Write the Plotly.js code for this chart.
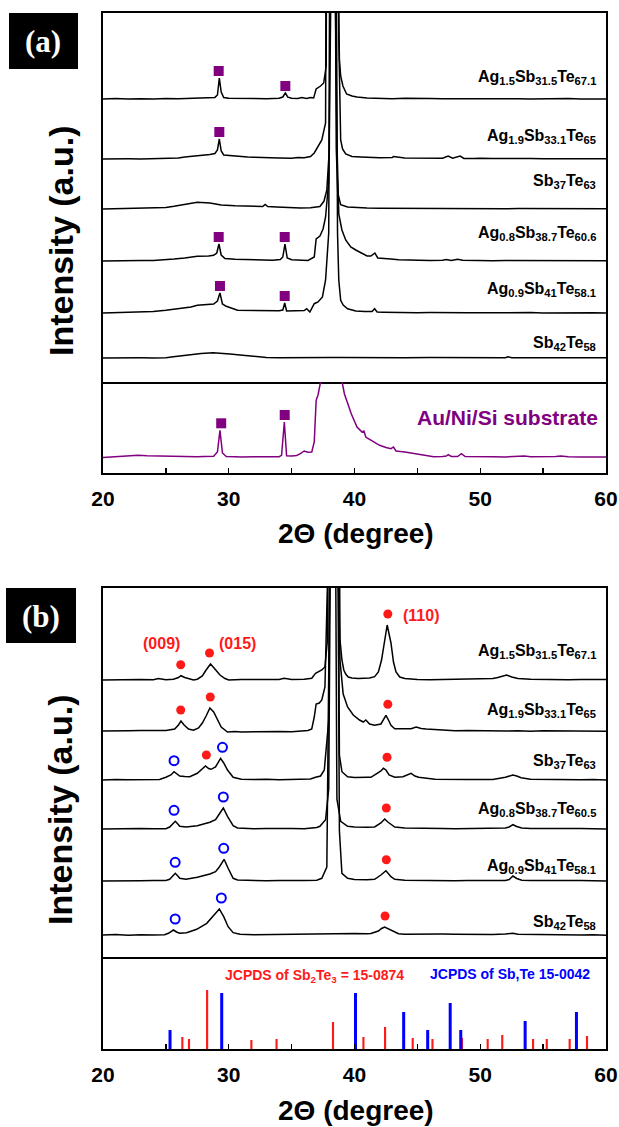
<!DOCTYPE html>
<html>
<head>
<meta charset="utf-8">
<script src="https://cdn.plot.ly/plotly-3.0.1.min.js"></script>
<style>
  html, body { margin: 0; padding: 0; background: #fff; }
  #chart { width: 619px; height: 1127px; }
</style>
</head>
<body>
<div id="chart"></div>
<script>
// ---------------- XRD patterns, panel (a): 2θ (deg) and intensity (a.u.) ----------------
const a1_tth = [20,21,22,22.5,23,24,25,26,27,27.5,28,28.5,28.9,29.1,29.25,29.4,29.6,30,31,32,33,33.5,34,34.3,34.5,34.7,35,35.5,35.8,36.2,36.5,36.75,36.95,37.3,37.55,37.75,37.9,38.15,38.3,38.45,38.7,38.8,38.9,39.08,39.37,39.8,40.2,41,42,43,44,45,46,47,48,49,50,51,52,53,54,55,56,57,58,59,60];
const a1_int = [0,0.4,0,0.2,0.3,0,0.5,0.2,0.6,0.5,0.9,1.2,1.6,4,21,7,1.5,0.8,0.4,0.6,0.3,0.5,0.8,2,6,1.8,0.8,0.6,1.5,0.5,1.5,1,10,13,16,33,120,900,3000,900,120,40,23,13,5,3,2,1,0.6,0.3,0.8,0.3,0.5,0.2,0.6,0.3,0.2,0.4,0.2,0.3,0.1,0.3,0.2,0.4,0.1,0.3,0];

const a2_tth = [20,21,22,23,24,25,26,26.5,27,27.5,28,28.5,28.9,29.1,29.25,29.4,29.6,30,30.7,31.5,32,33,34,35,35.5,36,36.5,36.8,37.1,37.4,37.7,37.9,38.15,38.3,38.5,38.75,38.9,39.05,39.3,39.8,40.5,41,42,43,43.1,44,45,46,47,47.45,47.8,48.4,48.7,49.5,50,51,52,53,54,55,56,57,58,59,60];
const a2_int = [0,0.3,0.2,0.1,0.5,0.4,1,2,2.5,3,3.8,4.5,5.5,9,20,8,4,3.5,2.5,2,1.8,1.2,1,0.8,1.5,1.2,2.5,6,12,19,36,150,900,3000,900,120,19,10,5,2.5,2,1.5,1.2,1.5,2.5,1,0.8,0.5,0.8,3,0.8,3,0.6,0.5,0.8,0.4,0.6,0.3,0.5,0.2,0.4,0.2,0.3,0.2,0.3];

const a3_tth = [20,21,22,23,24,25,25.65,26.5,27.5,28.5,29.4,30.5,31.9,32.7,32.9,33.1,33.8,35,35.7,36.5,37.25,37.57,37.8,38.0,38.15,38.3,38.4,38.55,38.67,38.9,39.45,40,41,42,43,44,45,46,47,48,49,50,51,52,53,54,55,56,57,58,59,60];
const a3_int = [0,0.3,0.4,0.5,0.8,1.5,2.7,4.5,6.7,6,4,3.2,2.7,2.5,4.5,2.5,2,1.2,1,1.2,2.5,7.7,19,60,400,3000,400,60,16,4.3,2,1.5,1,0.8,0.7,0.5,0.6,0.4,0.5,0.3,0.6,0.3,0.5,0.2,0.4,0.3,0.2,0.4,0.3,0.2,0.3,0.2];

const a4_tth = [20,21,22,23,24,25,25.65,26.5,27.5,28.4,28.8,29.05,29.22,29.4,29.7,30.5,31.5,32.5,33.5,34.1,34.3,34.47,34.65,35,35.7,36.3,36.8,36.95,37.25,37.5,37.7,37.95,38.15,38.3,38.45,38.6,38.75,39,39.3,39.7,40.1,40.5,41,41.3,41.62,41.85,42.3,42.9,43.5,44,45,46,47,47.3,47.7,48.2,48.6,49.5,50,51,52,53,54,55,56,57,58,59,60];
const a4_int = [0,0.4,0.2,0.5,0.6,1,2,3,4.7,5,5.7,8,17,6,2.5,1.8,1.5,1,0.8,1.5,4,17,3,1.2,0.8,0.5,4,22,25,32,44,80,300,3000,300,120,47,31,21,14,11,8,5,5,8,3,2.3,2,1.2,1,0.6,0.5,0.8,1.5,0.6,1.8,0.8,0.5,0.7,0.3,0.5,0.4,0.2,0.5,0.3,0.4,0.2,0.3,0.2];

const a5_tth = [20,21,22,23,24,25,26,27,27.5,28.2,28.8,29.1,29.3,29.5,29.8,30.7,31.5,32.5,33.2,34,34.3,34.45,34.6,35,35.7,36.0,36.2,36.45,36.8,37.1,37.45,37.7,37.95,38.1,38.3,38.5,38.65,38.75,38.9,39.1,39.45,40.1,40.8,41.4,41.6,41.8,42.3,43,44,45,46,47,48,49,50,51,52,53,54,55,56,57,58,59,60];
const a5_int = [0,0.3,0.5,0.8,1.5,2.7,4,6,7.7,8.5,9,12,20,9,6.7,2.7,2.5,2,2,2.2,3,10,2,2,2,2.5,4.3,1,9.3,11,16,33,80,500,3000,500,80,33,12.7,8,4.3,2,1.5,1.5,4.3,1,0.8,0.5,0.4,0.3,0.5,0.2,0.4,0.3,0.2,0.4,0.3,0.2,0.4,0.1,0.3,0.2,0.1,0.3,0];

const a6_tth = [20,21,22,23,24,25,25.6,26.3,26.9,27.8,28.75,29.5,30.1,30.9,31.7,32.4,33,34,35,36,37,38,39,40,42,44,46,48,50,52,52.2,52.5,54,56,58,60];
const a6_int = [0,0.3,0,0.2,0.1,0.2,1.2,2.3,3.3,4.5,5.3,4.8,4,3,2,1.2,0.5,0.3,0.2,0.4,0.3,0.5,0.6,0.4,0.3,0.2,0.4,0.3,0.2,0.3,1.2,0.3,0.2,0.3,0.1,0.2];

// Au/Ni/Si substrate
const sub_tth = [20,21,22,22.8,23.5,24,25,26,26.9,27.5,28,28.8,29.1,29.3,29.5,29.8,30.5,31,32,33.2,34,34.2,34.42,34.6,35,35.4,35.7,36,36.3,36.6,36.8,36.95,37.1,37.3,37.6,38.1,38.6,39.0,39.2,39.4,39.75,40.2,40.6,40.75,40.9,41,41.5,42,42.5,42.9,43.1,43.3,44,44.5,45,45.4,46.3,47,47.3,47.45,47.7,48.2,48.5,48.8,49.5,50,51,52,53,53.5,54,55,56,56.4,57,58,59,60];
const sub_int = [-0.5,0.5,0.8,1.7,1.2,1,0.7,0.5,0,0.3,0.5,0.7,5,26.7,4,0.5,0.3,0,0.2,0,0.3,1.7,35,1.3,1,1.5,3.3,6,4.7,5,15,56.7,62,75,200,600,200,76,63,55,43,30,25,26,20,19,15,11.7,9.5,8.3,10,6,5,4,3,1.7,0.3,0.5,1,2.3,0.5,0.5,3.3,0.5,0.2,0.2,0.3,0,0.3,1,0.2,0,0.4,1,0.2,0,0.2,0];

// ---------------- XRD patterns, panel (b) ----------------
const b1_tth = [20,21,22,23,24,24.4,25,25.6,26.0,26.2,26.5,26.9,27.2,27.5,27.9,28.2,28.55,28.9,29.3,29.7,30,31,32,33,34,34.4,35,36,36.6,36.9,37.4,37.65,37.85,38.1,38.3,38.55,38.85,39.0,39.15,39.3,39.5,39.8,40.3,40.7,41.2,41.6,41.9,42.15,42.4,42.6,42.9,43.1,43.3,43.6,44,44.5,45,46,47,48,48.9,49.5,50,51,51.4,51.8,52.1,52.5,53,54,55,56,57,58,59,60];
const b1_int = [0,0.3,0.2,0.5,0.3,1.5,0.2,0.8,2.5,4.3,2.5,0.8,0,0.8,4,10,16,11,5,1.5,0,0.4,0.6,0.3,0.5,1.7,0.5,0.8,1.7,6.7,10,13,40,600,3000,600,40,20,10,6,3,2,1.5,1.7,2,3.3,8,20,40,55,37,18,8,3,1.5,0.8,0.5,0.3,0.6,0.4,0.5,0.8,1,1.5,2.5,4,5,3,1.5,0.8,0.5,0.6,0.3,0.5,0.2,0.4];

const b2_tth = [20,21,22,23,24,25,25.7,26.0,26.2,26.45,26.8,27.2,27.6,27.9,28.2,28.5,28.8,29.0,29.4,29.9,30.5,31,32,33,34,35,36,36.3,36.6,36.8,36.95,37.2,37.4,37.65,37.95,38.3,38.65,38.85,39.1,39.45,39.9,40.4,40.7,40.9,41.2,41.6,42.1,42.3,42.5,42.7,42.9,43.2,44,44.5,44.9,45.3,45.7,46.5,47,48,49,50,51,52,53,54,55,56,57,58,59,60];
const b2_int = [0,0.5,0.3,0.5,0.2,0.6,2,6,10,6,2,0.7,3,8,15,23,19,14,4,-1,-0.5,-1,-0.7,-1,-0.5,-0.7,-0.3,0.5,2,14,27,28,31,44,200,3000,200,70,37,24,16,11,9,11,7,5.7,7,11,15.7,11,5.7,2.3,2,2.3,4,2.5,2,1.2,0.7,0.3,0.5,0.2,0.4,0,0.3,-0.2,0.2,0,-0.3,0.2,0,-0.2];

const b3_tth = [20,21,22,23,24,24.5,25,25.4,25.65,25.9,26.1,26.5,26.9,27.5,27.9,28.15,28.4,28.6,28.95,29.15,29.35,29.6,29.9,30.35,31,32,33,34,35,36,36.5,36.9,37.3,37.6,37.95,38.15,38.4,38.6,38.8,39,39.45,40,41,41.3,41.8,42.1,42.3,42.5,42.75,43.2,43.85,44.2,44.5,44.8,45.1,46.4,47,48,49,50,51,52,52.3,52.6,52.9,53.25,54,55,56,57,58,59,60];
const b3_int = [0,0.5,0.2,0.4,0.8,0.5,2.7,5,8.3,6,4,3.5,3.3,6.7,11,14,11.5,10.7,13,18,21.7,17,10,2.7,0.7,0.4,0.8,0.3,0.6,0.5,1,2.7,4,10,60,500,3000,500,25,8.3,3.3,2.5,2.8,2.7,6.7,9,11.7,10,5,2.7,3.3,5,6.7,4,2.7,0.7,0.5,0.8,0.4,0.6,0.5,2.7,4,5,4,2.3,0.8,0.5,0.3,0.5,0.2,0.4,0];

const b4_tth = [20,21,22,23,24,25,25.3,25.5,25.75,25.95,26.1,26.6,27.5,28.5,28.95,29.25,29.57,29.9,30.35,30.7,31.5,32,33,34,35,36,37,37.25,37.7,37.95,38.15,38.3,38.45,38.6,38.9,39.45,40,41,41.6,42.1,42.4,42.65,42.9,43.2,44,45,46,47,48,49,50,51,52,52.3,52.6,52.9,53.3,54,55,56,57,58,59,60];
const b4_int = [0,0.4,0.1,0.5,0.2,0.3,2,5,7.7,5,2.7,2,3.3,6.7,9.3,15,21,12.7,3.3,1,0.5,0.3,0.6,0.2,0.5,0.3,1.5,2.7,9.3,40,400,3000,400,30,7.7,2.7,2,1.8,2,6,10,7,4.3,2,1,0.6,0.4,0.5,0.3,0.6,0.3,0.5,1,2,4.3,2.5,1,0.5,0.3,0.6,0.2,0.4,0.3,0];

const b5_tth = [20,21,22,23,24,25,25.3,25.5,25.75,25.95,26.1,26.6,27.5,28.5,28.95,29.25,29.63,29.95,30.35,30.7,31.5,32,33,34,35,36,37,37.4,37.8,38.1,38.35,38.65,38.8,39,39.45,40,41,41.6,42.1,42.5,42.9,43.2,44,45,46,47,48,49,50,51,52,52.3,52.6,52.9,53.3,54,55,56,57,58,59,60];
const b5_int = [0,0.3,0.5,0.2,0.4,0.6,1.7,4.5,7.7,5,2.7,1.7,3.7,7,9.3,14,21.7,12.7,2.7,1,0.5,0.7,0.3,0.5,0.2,0.6,0.8,2.7,14,400,3000,400,50,7.7,2.7,1.5,1.3,1.7,6,10.3,4.3,1.7,0.8,0.5,0.3,0.6,0.2,0.5,0.4,0.3,0.6,1.5,5,2.5,0.8,0.5,0.3,0.5,0.2,0.4,0.3,0];

const b6_tth = [20,21,22,23,24,24.5,24.9,25.2,25.6,25.85,26.1,26.65,27.45,28.25,28.9,29.25,29.6,29.95,30.35,30.9,32,33,34,35,36,37,38,39,40,41,41.3,41.9,42.15,42.4,42.65,42.9,43.5,44,45,46,47,48,49,50,51,52,52.6,53,54,55,56,57,58,59,60];
const b6_int = [0,0.4,-0.2,0.3,0,0.5,0.2,1.7,5,3,1.7,2.3,5.7,11.7,21.7,26,18.3,8.3,2.3,0.7,0.3,0.5,0.4,0.6,0.8,1,1.5,1.7,1.5,1.3,1.5,4,6.5,8,6.5,4.7,1.3,0.8,1,0.6,0.9,0.7,0.5,0.8,0.6,0.9,1.7,0.8,0.5,0.3,0.4,0.2,0,0.3,-0.3];

// Reference line patterns (JCPDS cards)
const sb2te3_tth = [26.31,26.84,28.28,31.80,33.80,38.29,40.71,42.43,44.63,46.20,48.55,50.59,51.75,54.20,55.29,57.11,58.49];
const sb2te3_int = [12,10,59,9,10,27,12,22,11,10,11,10,14,10,10,10,13];
const sbte_tth = [25.33,29.44,40.08,43.91,45.82,47.61,48.45,53.57,57.65];
const sbte_int = [19,56,56,37,19,46,19,28,37];

// Sample names (top to bottom)
const labelsA = [
  'Ag<sub>1.5</sub>Sb<sub>31.5</sub>Te<sub>67.1</sub>',
  'Ag<sub>1.9</sub>Sb<sub>33.1</sub>Te<sub>65</sub>',
  'Sb<sub>37</sub>Te<sub>63</sub>',
  'Ag<sub>0.8</sub>Sb<sub>38.7</sub>Te<sub>60.6</sub>',
  'Ag<sub>0.9</sub>Sb<sub>41</sub>Te<sub>58.1</sub>',
  'Sb<sub>42</sub>Te<sub>58</sub>'
];
const labelsB = [
  'Ag<sub>1.5</sub>Sb<sub>31.5</sub>Te<sub>67.1</sub>',
  'Ag<sub>1.9</sub>Sb<sub>33.1</sub>Te<sub>65</sub>',
  'Sb<sub>37</sub>Te<sub>63</sub>',
  'Ag<sub>0.8</sub>Sb<sub>38.7</sub>Te<sub>60.5</sub>',
  'Ag<sub>0.9</sub>Sb<sub>41</sub>Te<sub>58.1</sub>',
  'Sb<sub>42</sub>Te<sub>58</sub>'
];

// Phase markers: 2θ position and the pattern (row) they sit on
const sqA_tth = [29.2, 34.5, 29.25, 29.2, 34.45, 29.3, 34.45];
const sqA_row = [0, 0, 1, 3, 3, 4, 4];
const sqSub_tth = [29.4, 34.45];
const sb2te3B_tth = [26.18, 28.47, 42.65, 26.18, 28.53, 42.65, 28.22, 42.59, 42.53, 42.53, 42.43];
const sb2te3B_row = [0, 0, 0, 1, 1, 1, 2, 2, 3, 4, 5];
const sbteB_tth = [25.65, 29.5, 25.65, 29.57, 25.74, 29.6, 25.74, 29.41];
const sbteB_row = [2, 2, 3, 3, 4, 4, 5, 5];
const hklText = ['(009)', '(015)', '(110)'];

// ---------------- layout geometry (pixels of the 619 x 1127 page) ----------------
const W = 619, H = 1127;
const PX = v => v / W;
const PY = v => 1 - v / H;
const X0 = 103, X1 = 606;
const offsA = [283, 223, 173, 121, 69, 24];     // stacking offsets, panel (a)
const offsB = [277, 226, 177, 128, 76, 22];     // stacking offsets, panel (b)
const SUB_OFF = 16;
const labelYA = [76, 135, 180, 233, 288, 342];
const labelYB = [650, 709, 760, 808, 865, 921];

const SANS = 'Arial, "Liberation Sans", sans-serif';
const SERIF = '"Times New Roman", "Liberation Serif", serif';
const RED = '#ff1a1a', BLUE = '#0000ff', PURPLE = '#800080';

const rowsA = [[a1_tth, a1_int], [a2_tth, a2_int], [a3_tth, a3_int], [a4_tth, a4_int], [a5_tth, a5_int], [a6_tth, a6_int]];
const rowsB = [[b1_tth, b1_int], [b2_tth, b2_int], [b3_tth, b3_int], [b4_tth, b4_int], [b5_tth, b5_int], [b6_tth, b6_int]];

// height of a pattern's peak near a given 2θ (used to hang markers above the peak)
function peakAt(tth, inten, x0) {
  let m = -Infinity;
  tth.forEach((t, i) => { if (Math.abs(t - x0) <= 0.35) m = Math.max(m, inten[i]); });
  return m === -Infinity ? 0 : m;
}

const traces = [];
rowsA.forEach(([t, v], i) => traces.push({
  type: 'scatter', mode: 'lines', x: t, y: v.map(q => q + offsA[i]),
  xaxis: 'x', yaxis: 'y', line: { color: '#000', width: 1.5 }, hoverinfo: 'skip'
}));
traces.push({
  type: 'scatter', mode: 'lines', x: sub_tth, y: sub_int.map(q => q + SUB_OFF),
  xaxis: 'x2', yaxis: 'y2', line: { color: PURPLE, width: 1.5 }, hoverinfo: 'skip'
});
rowsB.forEach(([t, v], i) => traces.push({
  type: 'scatter', mode: 'lines', x: t, y: v.map(q => q + offsB[i]),
  xaxis: 'x3', yaxis: 'y3', line: { color: '#000', width: 1.5 }, hoverinfo: 'skip'
}));

// square markers (panel a)
traces.push({
  type: 'scatter', mode: 'markers', xaxis: 'x', yaxis: 'y',
  x: sqA_tth,
  y: sqA_tth.map((t, k) => { const r = sqA_row[k]; return offsA[r] + peakAt(rowsA[r][0], rowsA[r][1], t) + 7; }),
  marker: { symbol: 'square', size: 10, color: PURPLE }, cliponaxis: false, hoverinfo: 'skip'
});
traces.push({
  type: 'scatter', mode: 'markers', xaxis: 'x2', yaxis: 'y2',
  x: sqSub_tth,
  y: sqSub_tth.map(t => SUB_OFF + peakAt(sub_tth, sub_int, t) + 7),
  marker: { symbol: 'square', size: 10, color: PURPLE }, cliponaxis: false, hoverinfo: 'skip'
});
// Sb2Te3 (filled) and Sb,Te (open) markers (panel b)
traces.push({
  type: 'scatter', mode: 'markers', xaxis: 'x3', yaxis: 'y3',
  x: sb2te3B_tth,
  y: sb2te3B_tth.map((t, k) => { const r = sb2te3B_row[k]; return offsB[r] + peakAt(rowsB[r][0], rowsB[r][1], t) + 11; }),
  marker: { symbol: 'circle', size: 9, color: RED }, cliponaxis: false, hoverinfo: 'skip'
});
traces.push({
  type: 'scatter', mode: 'markers', xaxis: 'x3', yaxis: 'y3',
  x: sbteB_tth,
  y: sbteB_tth.map((t, k) => { const r = sbteB_row[k]; return offsB[r] + peakAt(rowsB[r][0], rowsB[r][1], t) + 11; }),
  marker: { symbol: 'circle-open', size: 9, color: BLUE, line: { width: 2, color: BLUE } }, cliponaxis: false, hoverinfo: 'skip'
});
// JCPDS stick patterns
traces.push({
  type: 'bar', x: sb2te3_tth, y: sb2te3_int, width: 0.17, xaxis: 'x4', yaxis: 'y4',
  marker: { color: RED, line: { width: 0 } }, hoverinfo: 'skip'
});
traces.push({
  type: 'bar', x: sbte_tth, y: sbte_int, width: 0.24, xaxis: 'x4', yaxis: 'y4',
  marker: { color: BLUE, line: { width: 0 } }, hoverinfo: 'skip'
});

const boxAxis = { showline: true, mirror: true, linecolor: '#000', linewidth: 1.6, showgrid: false, zeroline: false, ticks: '', showticklabels: false, fixedrange: true };
const xDom = [PX(X0), PX(X1)];
const tickVals = [20, 30, 40, 50, 60];
const bottomAxis = Object.assign({}, boxAxis, {
  mirror: false,
  ticks: 'inside', ticklen: 5, tickwidth: 1.4, tickcolor: '#000',
  tickvals: tickVals, ticktext: tickVals.map(v => '<b>' + v + '</b>'), showticklabels: true,
  tickfont: { family: SANS, size: 21, color: '#000' }, ticklabelstandoff: 6,
  minor: { ticks: 'inside', tickvals: [25, 35, 45, 55], ticklen: 5, tickwidth: 1.4, tickcolor: '#000' }
});

const layout = {
  width: W, height: H, margin: { l: 0, r: 0, t: 0, b: 0 },
  paper_bgcolor: '#fff', plot_bgcolor: '#fff', showlegend: false, barmode: 'overlay',
  xaxis: Object.assign({}, boxAxis, { domain: xDom, range: [20, 60], anchor: 'y' }),
  yaxis: Object.assign({}, boxAxis, { domain: [PY(382), PY(13)], range: [0, 369], anchor: 'x' }),
  xaxis2: Object.assign({}, bottomAxis, { domain: xDom, range: [20, 60], anchor: 'y2' }),
  yaxis2: Object.assign({}, boxAxis, { domain: [PY(473), PY(382)], range: [0, 91], anchor: 'x2' }),
  xaxis3: Object.assign({}, boxAxis, { domain: xDom, range: [20, 60], anchor: 'y3' }),
  yaxis3: Object.assign({}, boxAxis, { domain: [PY(957), PY(588)], range: [0, 369], anchor: 'x3' }),
  xaxis4: Object.assign({}, bottomAxis, { domain: xDom, range: [20, 60], anchor: 'y4' }),
  yaxis4: Object.assign({}, boxAxis, { domain: [PY(1049), PY(957)], range: [0, 92], anchor: 'x4' }),
  shapes: [
    { type: 'rect', xref: 'paper', yref: 'paper', x0: PX(9), x1: PX(78), y0: PY(69), y1: PY(13), fillcolor: '#000', line: { width: 0 } },
    { type: 'rect', xref: 'paper', yref: 'paper', x0: PX(6), x1: PX(76), y0: PY(643), y1: PY(588), fillcolor: '#000', line: { width: 0 } }
  ],
  annotations: []
};

const ann = layout.annotations;
const note = (text, x, y, font, extra) => ann.push(Object.assign({
  xref: 'paper', yref: 'paper', x: PX(x), y: PY(y), text: text, showarrow: false,
  xanchor: 'center', yanchor: 'middle', font: font
}, extra || {}));

// panel tags
note('<b>(a)</b>', 43, 42, { family: SERIF, size: 31, color: '#fff' });
note('<b>(b)</b>', 41, 616, { family: SERIF, size: 31, color: '#fff' });

// axis titles
note('<b>Intensity (a.u.)</b>', 61, 241, { family: SANS, size: 34, color: '#000' }, { textangle: -90 });
note('<b>Intensity (a.u.)</b>', 60, 810, { family: SANS, size: 34, color: '#000' }, { textangle: -90 });
note('<b>2Θ (degree)</b>', 356, 533, { family: SANS, size: 28, color: '#000' });
note('<b>2Θ (degree)</b>', 356, 1110, { family: SANS, size: 28, color: '#000' });

// sample names
labelsA.forEach((s, i) => note('<b>' + s + '</b>', 598, labelYA[i] + 1, { family: SANS, size: 16, color: '#000' }, { xanchor: 'right' }));
labelsB.forEach((s, i) => note('<b>' + s + '</b>', 598, labelYB[i] + 1, { family: SANS, size: 16, color: '#000' }, { xanchor: 'right' }));

// substrate name and reference cards
note('<b>Au/Ni/Si substrate</b>', 507, 417, { family: SANS, size: 21, color: PURPLE });
note('<b>JCPDS of Sb<sub>2</sub>Te<sub>3</sub> = 15-0874</b>', 314, 976, { family: SANS, size: 14, color: RED });
note('<b>JCPDS of Sb,Te 15-0042</b>', 510, 974, { family: SANS, size: 14, color: BLUE });

// Miller indices
note('<b>' + hklText[0] + '</b>', 161, 643, { family: SANS, size: 16, color: RED });
note('<b>' + hklText[1] + '</b>', 237, 643, { family: SANS, size: 16, color: RED });
note('<b>' + hklText[2] + '</b>', 421, 615, { family: SANS, size: 16, color: RED });

Plotly.newPlot('chart', traces, layout, { staticPlot: true, displayModeBar: false });
</script>
</body>
</html>
